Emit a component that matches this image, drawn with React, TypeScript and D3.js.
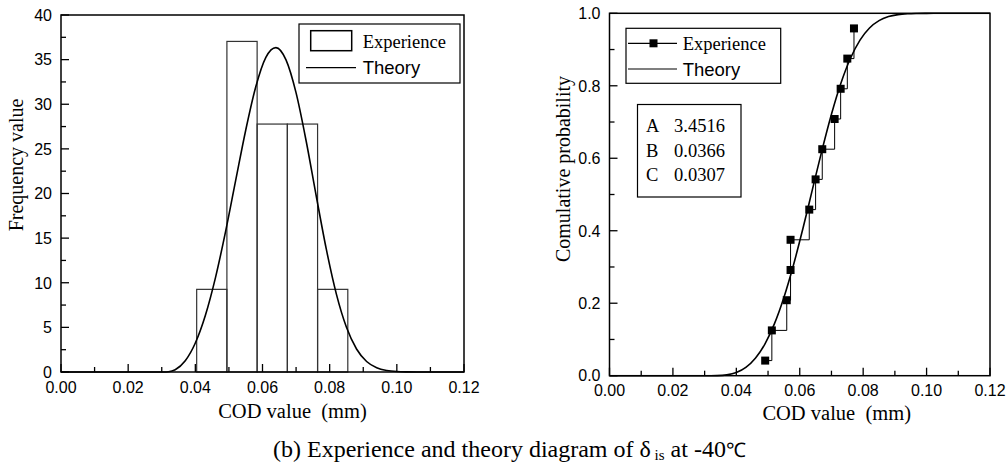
import React from "react";
import * as d3 from "d3";

// ---------- data ----------
const xTickValues = [0, 0.02, 0.04, 0.06, 0.08, 0.1, 0.12];
const leftYTickValues = [0, 5, 10, 15, 20, 25, 30, 35, 40];
const rightYTickValues = [0, 0.2, 0.4, 0.6, 0.8, 1.0];

// histogram (frequency density)
const binEdges = [0.0404, 0.0494, 0.0584, 0.0674, 0.0764, 0.0854];
const binDensity = [9.26, 37.04, 27.78, 27.78, 9.26];

// theory curve
const theoryX = [0, 0.0307, 0.032, 0.034, 0.037, 0.04, 0.043, 0.046, 0.049, 0.052, 0.055, 0.058, 0.061, 0.064, 0.067, 0.07, 0.073, 0.076, 0.079, 0.082, 0.085, 0.088, 0.091, 0.094, 0.097, 0.1, 0.103, 0.106, 0.12];
const theoryDensity = [0, 0, 0.03, 0.26, 1.26, 3.25, 6.36, 10.58, 15.73, 21.44, 27.09, 31.96, 35.25, 36.35, 34.97, 31.27, 25.88, 19.72, 13.76, 8.73, 5.01, 2.58, 1.18, 0.48, 0.17, 0.05, 0.014, 0.003, 0];
const theoryCdf = [0, 0, 0, 0.0002, 0.0023, 0.0088, 0.0229, 0.0481, 0.0874, 0.143, 0.2159, 0.3048, 0.406, 0.5141, 0.6217, 0.7215, 0.8076, 0.876, 0.9261, 0.9595, 0.9798, 0.9909, 0.9963, 0.9987, 0.9996, 0.9999, 1.0, 1.0, 1.0];

// experience (empirical cumulative probability)
const expX = [0.0491, 0.0512, 0.0559, 0.0571, 0.0571, 0.063, 0.065, 0.0671, 0.071, 0.0729, 0.075, 0.0771];
const expP = [0.0417, 0.125, 0.2083, 0.2917, 0.375, 0.4583, 0.5417, 0.625, 0.7083, 0.7917, 0.875, 0.9583];

const paramNames = ["A", "B", "C"];
const paramValues = ["3.4516", "0.0366", "0.0307"];

const SANS = "'Liberation Sans', Arial, sans-serif";
const SERIF = "'Liberation Serif', 'Times New Roman', serif";

function minors(major: number[]) {
  const out: number[] = [];
  for (let i = 0; i < major.length - 1; i++) out.push((major[i] + major[i + 1]) / 2);
  return out;
}

function Frame({ x, y, yTicks, yFmt, labelDy }: any) {
  const [x0, x1] = x.range();
  const [y0, y1] = y.range();
  const fx = d3.format(".2f");
  const fy = d3.format(yFmt);
  return (
    <g>
      <rect x={x0} y={y1} width={x1 - x0} height={y0 - y1} fill="none" stroke="#000" strokeWidth={1.5} />
      {xTickValues.map((t) => (
        <g key={"xm" + t}>
          <line x1={x(t)} x2={x(t)} y1={y0} y2={y0 - 8} stroke="#000" strokeWidth={1.3} />
          <text x={x(t)} y={y0 + labelDy} textAnchor="middle" fontFamily={SANS} fontSize={16}>{fx(t)}</text>
        </g>
      ))}
      {minors(xTickValues).map((t) => (
        <line key={"xn" + t} x1={x(t)} x2={x(t)} y1={y0} y2={y0 - 5} stroke="#000" strokeWidth={1.3} />
      ))}
      {yTicks.map((t: number) => (
        <g key={"ym" + t}>
          <line x1={x0} x2={x0 + 8} y1={y(t)} y2={y(t)} stroke="#000" strokeWidth={1.3} />
          <text x={x0 - 9} y={y(t)} dy="0.36em" textAnchor="end" fontFamily={SANS} fontSize={16}>{fy(t)}</text>
        </g>
      ))}
      {minors(yTicks).map((t) => (
        <line key={"yn" + t} x1={x0} x2={x0 + 5} y1={y(t)} y2={y(t)} stroke="#000" strokeWidth={1.3} />
      ))}
    </g>
  );
}

export default function App() {
  // left chart
  const xL = d3.scaleLinear().domain([0, 0.12]).range([61, 464]);
  const yL = d3.scaleLinear().domain([0, 40]).range([372, 15]);
  // right chart
  const xR = d3.scaleLinear().domain([0, 0.12]).range([609.5, 990]);
  const yR = d3.scaleLinear().domain([0, 1]).range([375.7, 13.3]);

  const densLine = d3
    .line<number>()
    .x((_, i) => xL(theoryX[i]))
    .y((d) => yL(d))
    .curve(d3.curveMonotoneX);
  const cdfLine = d3
    .line<number>()
    .x((_, i) => xR(theoryX[i]))
    .y((d) => yR(d))
    .curve(d3.curveMonotoneX);
  const stepLine = d3
    .line<number>()
    .x((_, i) => xR(expX[i]))
    .y((d) => yR(d))
    .curve(d3.curveStepAfter);

  const pre = { whiteSpace: "pre" as const };

  return (
    <svg width={1006} height={468} style={{ position: "absolute", left: 0, top: 0, background: "#fff" }}>
      <rect width={1006} height={468} fill="#fff" />
      {/* ---------- left chart ---------- */}
      {binDensity.map((v, i) => (
        <rect
          key={"b" + i}
          x={xL(binEdges[i])}
          y={yL(v)}
          width={xL(binEdges[i + 1]) - xL(binEdges[i])}
          height={yL(0) - yL(v)}
          fill="none"
          stroke="#333"
          strokeWidth={1.2}
        />
      ))}
      <path d={densLine(theoryDensity) || ""} fill="none" stroke="#000" strokeWidth={1.6} />
      <Frame x={xL} y={yL} yTicks={leftYTickValues} yFmt="d" labelDy={21} />
      {/* legend left */}
      <rect x={299} y={24} width={161} height={59} fill="#fff" stroke="#000" strokeWidth={1.2} />
      <rect x={310.7} y={30.7} width={41} height={20} fill="none" stroke="#000" strokeWidth={1.5} />
      <text x={362.7} y={47.7} fontFamily={SERIF} fontSize={18.5}>Experience</text>
      <line x1={306} x2={356} y1={67.7} y2={67.7} stroke="#000" strokeWidth={1.2} />
      <text x={362.7} y={74} fontFamily={SANS} fontSize={18.5}>Theory</text>
      <text x={292.5} y={418} textAnchor="middle" fontFamily={SERIF} fontSize={20.5} style={pre}>{"COD value  (mm)"}</text>
      <text transform="translate(23,165) rotate(-90)" textAnchor="middle" fontFamily={SERIF} fontSize={20}>Frequency value</text>

      {/* ---------- right chart ---------- */}
      <path d={stepLine(expP) || ""} fill="none" stroke="#000" strokeWidth={1} />
      {expP.map((p, i) => (
        <rect key={"m" + i} x={xR(expX[i]) - 4} y={yR(p) - 4} width={8} height={8} fill="#000" />
      ))}
      <path d={cdfLine(theoryCdf) || ""} fill="none" stroke="#000" strokeWidth={1.6} />
      <Frame x={xR} y={yR} yTicks={rightYTickValues} yFmt=".1f" labelDy={20} />
      {/* legend right */}
      <rect x={626} y={28.3} width={154.7} height={55} fill="#fff" stroke="#000" strokeWidth={1.2} />
      <line x1={628} x2={677} y1={43.3} y2={43.3} stroke="#000" strokeWidth={1.2} />
      <rect x={649.5} y={39.3} width={8} height={8} fill="#000" />
      <text x={682.7} y={50} fontFamily={SERIF} fontSize={18.5}>Experience</text>
      <line x1={628} x2={677} y1={69} y2={69} stroke="#000" strokeWidth={1.2} />
      <text x={682.7} y={76} fontFamily={SANS} fontSize={18.5}>Theory</text>
      {/* parameter table */}
      <rect x={637.5} y={104.5} width={103.5} height={92.5} fill="#fff" stroke="#000" strokeWidth={1.2} />
      {paramNames.map((n, i) => (
        <g key={n}>
          <text x={646} y={132 + i * 24.5} fontFamily={SERIF} fontSize={18.5}>{n}</text>
          <text x={674} y={132 + i * 24.5} fontFamily={SERIF} fontSize={18.5}>{paramValues[i]}</text>
        </g>
      ))}
      <text x={836.7} y={419.5} textAnchor="middle" fontFamily={SERIF} fontSize={20.5} style={pre}>{"COD value  (mm)"}</text>
      <text transform="translate(569.5,169) rotate(-90)" textAnchor="middle" fontFamily={SERIF} fontSize={20}>Comulative probability</text>

      {/* caption */}
      <text x={273} y={456.5} fontFamily={SERIF} fontSize={24} style={pre}>
        {"(b) Experience and theory diagram of δ"}
        <tspan fontSize={15} dy={3}>{" is"}</tspan>
        <tspan dy={-3}>{" at -40"}</tspan>
        <tspan fontSize={20}>{"℃"}</tspan>
      </text>
    </svg>
  );
}
